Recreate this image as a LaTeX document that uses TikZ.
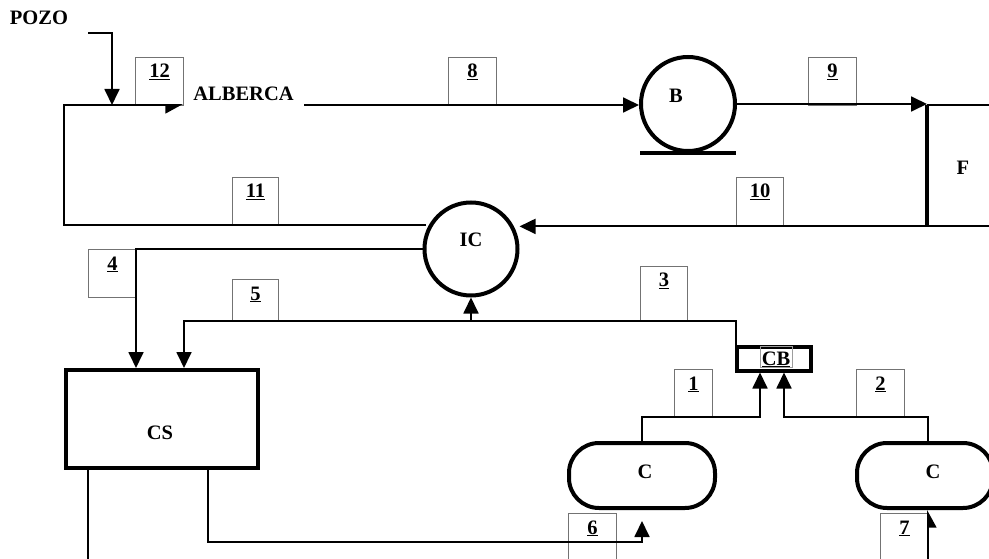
\documentclass[tikz,border=0pt]{standalone}
\usepackage{fontspec}
\setmainfont{Liberation Serif}
\usetikzlibrary{arrows.meta,calc}
\definecolor{boxgray}{gray}{0.45}
\tikzset{
  ln/.style={line width=1.8pt},
  arr/.style={ln,-{Triangle[length=16pt,width=15pt]}},
  harr/.style={ln,-{Triangle[length=16pt,width=17pt,right]}},
  heavy/.style={line width=4pt},
  txt/.style={font=\fontsize{20.5}{24}\selectfont\bfseries,inner sep=0pt,anchor=base},
  lbox/.style={draw=boxgray,line width=1pt,anchor=north west,inner sep=0pt},
  unit/.style={heavy,draw,inner sep=0pt,anchor=north west},
  pumpc/.style={heavy,draw,circle,inner sep=0pt}
}
\newcommand{\lb}[5]{% name, x, y, w, h
  \node[lbox,minimum width=#4pt,minimum height=#5pt] (#1) at (#2,#3) {};}
\begin{document}
\begin{tikzpicture}[x=1pt,y=-1pt]
\useasboundingbox (0,0) rectangle (989,559);
\fill[white] (0,0) rectangle (989,559);

% main units
\node[pumpc,minimum size=94pt] (B) at (688,104) {};
\node[pumpc,minimum size=93pt] (IC) at (471,249) {};
\node[unit,minimum width=192pt,minimum height=98pt] (CS) at (64,368) {};
\node[unit,line width=3.5pt,minimum width=74pt,minimum height=24pt] (CB) at (735,345) {};
\node[unit,rounded corners=30pt,minimum width=146pt,minimum height=65pt] (C1) at (567,441) {};
\node[unit,rounded corners=30pt,minimum width=136pt,minimum height=65pt] (C2) at (855,441) {};
\node[inner sep=0pt,anchor=north west,minimum width=90pt,minimum height=121pt] (F) at (927,105) {};
\draw[heavy] (F.north west) -- (F.south west);
\draw[ln] (F.north west) -- (F.north east);
\draw[ln] (F.south west) -- (F.south east);

% pump base
\coordinate (bb1) at (640,153);
\coordinate (bb2) at (736,153);
\draw[heavy] (bb1) -- (bb2);

% text labels
\node[txt] (tpozo) at (39,25) {POZO};
\node[txt] (talb) at (243.5,101) {ALBERCA};
\node[txt] (tB) at (676,103) {B};
\node[txt] (tIC) at (471,247) {IC};
\node[txt] (tF) at (963,175) {F};
\node[txt] (tCS) at (160,439) {CS};
\node[txt] (tC1) at (645,478) {C};
\node[txt] (tC2) at (933,478) {C};
\node[draw=boxgray!70,line width=0.6pt,minimum width=32pt,minimum height=21pt,inner sep=0pt] (cbt) at (776,357) {};
\node[txt] (tCB) at (776,365) {\underline{CB}};

% number boxes
\lb{b12}{135}{57}{48}{48}
\lb{b8}{448}{57}{48}{48}
\lb{b9}{808}{57}{48}{48}
\lb{b11}{232}{177}{46}{48}
\lb{b10}{736}{177}{47}{49}
\lb{b4}{88}{249}{48}{48}
\lb{b5}{232}{279}{46}{42}
\lb{b3}{640}{266}{47}{55}
\lb{b1}{674}{369}{38}{48}
\lb{b2}{856}{369}{48}{48}
\lb{b6}{568}{513}{48}{50}
\lb{b7}{880}{513}{48}{50}
\foreach \b/\n in {b12/12,b8/8,b9/9,b11/11,b10/10,b4/4,b5/5,b3/3,b1/1,b2/2,b6/6,b7/7}{
  \node[txt] (n\b) at ([yshift=-21pt]\b.north) {\underline{\n}};
}

% connectors
\coordinate (pz) at (88,33);
\coordinate (pzj) at (112,105);
\draw[arr] (pz) -| (pzj);

\coordinate (ltop) at (64,105);
\coordinate (lbot) at (64,225);
\coordinate (alb) at (183,105);
\coordinate (ic11) at (426,225);
\draw[harr] (ic11) -- (lbot) -- (ltop) -- (alb);

\coordinate (a8) at (304,105);
\draw[arr] (a8) -- (a8 -| B.west);
\draw[arr] (B.east) -- (B.east -| F.west);
\draw[arr] (F.south west) -- (F.south west -| IC.east);

\draw[arr] (IC.west) -| ([xshift=72pt]CS.north west);

\coordinate (j35) at (736,321);
\draw[arr] (CB.north west -| j35) -- (j35) -| ([xshift=120pt]CS.north west);
\draw[arr] (IC.south |- j35) -- (IC.south);

\coordinate (k1) at (760,417);
\draw[arr] (C1.north) |- (k1) -- (k1 |- CB.south);
\coordinate (k2) at (784,417);
\coordinate (c2t) at (928,441);
\draw[arr] (c2t) |- (k2) -- (k2 |- CB.south);

\draw[arr] ([xshift=144pt]CS.south west) |- ([yshift=-32pt]C1.south) -- ([yshift=-11pt]C1.south);
\coordinate (cse) at (88,559);
\draw[ln] ([xshift=24pt]CS.south west) -- (cse);
\coordinate (c7) at (928,562);
\draw[harr] (c7) -- (c7 |- C2.south);
\end{tikzpicture}
\end{document}
